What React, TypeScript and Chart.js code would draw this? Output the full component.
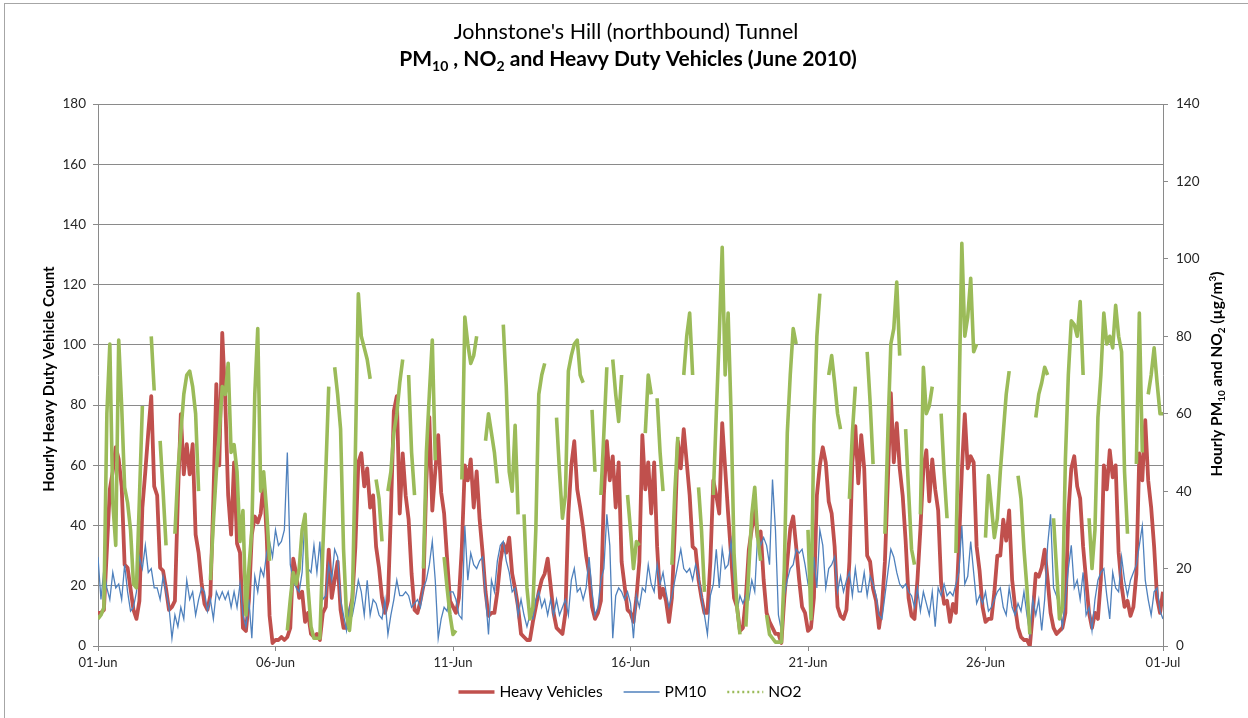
import React, { useEffect, useRef } from "react";
import { Chart, registerables } from "chart.js";

Chart.register(...registerables);

// ---- data (2-hourly samples, 01-Jun 00:00 .. 01-Jul 00:00) ----
const xTickLabels = ["01-Jun", "06-Jun", "11-Jun", "16-Jun", "21-Jun", "26-Jun", "01-Jul"];
const sampleHours = 2;
const N = null;

const hvCounts: number[] = [
  11, 11, 12, 32, 52, 58, 66, 62, 53, 27, 26, 19,
  12, 9, 15, 46, 58, 71, 83, 53, 50, 26, 25, 19,
  12, 13, 15, 49, 77, 57, 67, 57, 67, 37, 31, 21,
  14, 12, 17, 49, 87, 60, 104, 82, 50, 37, 61, 34,
  31, 6, 5, 15, 37, 43, 41, 44, 55, 37, 10, 1,
  2, 2, 3, 2, 3, 6, 29, 24, 16, 18, 8, 11,
  4, 3, 4, 2, 11, 13, 32, 16, 22, 28, 12, 6,
  6, 11, 16, 33, 61, 64, 53, 59, 46, 50, 33, 26,
  16, 11, 15, 44, 78, 83, 44, 64, 50, 42, 24, 12,
  11, 15, 20, 55, 76, 45, 58, 70, 51, 44, 29, 15,
  13, 11, 16, 33, 60, 55, 62, 46, 58, 42, 31, 18,
  10, 11, 11, 18, 28, 34, 31, 36, 24, 19, 13, 4,
  3, 2, 2, 8, 13, 18, 22, 24, 29, 20, 11, 6,
  5, 4, 11, 44, 60, 68, 52, 46, 39, 30, 24, 13,
  9, 11, 15, 50, 68, 55, 63, 46, 61, 28, 20, 12,
  11, 8, 16, 28, 70, 52, 61, 44, 61, 33, 16, 19,
  15, 8, 16, 39, 68, 59, 72, 61, 50, 33, 32, 22,
  16, 11, 11, 28, 55, 50, 44, 74, 59, 44, 30, 16,
  13, 5, 6, 16, 32, 39, 45, 36, 38, 22, 11, 8,
  6, 4, 4, 1, 16, 28, 39, 43, 33, 22, 13, 11,
  5, 6, 16, 50, 60, 66, 61, 48, 44, 33, 13, 10,
  9, 12, 28, 61, 73, 54, 70, 59, 30, 28, 19, 15,
  6, 13, 28, 55, 84, 61, 74, 59, 50, 35, 16, 10,
  9, 22, 39, 59, 65, 48, 62, 52, 45, 21, 14, 15,
  8, 14, 11, 33, 58, 77, 59, 63, 61, 33, 25, 13,
  8, 9, 9, 18, 30, 30, 42, 35, 45, 22, 13, 6,
  3, 2, 2, 0, 11, 24, 23, 26, 32, 22, 11, 6,
  4, 5, 6, 11, 44, 59, 63, 53, 49, 33, 22, 11,
  6, 11, 9, 22, 60, 52, 65, 56, 60, 31, 20, 13,
  15, 10, 13, 24, 64, 55, 75, 55, 46, 33, 16, 11,
  18,
];

const pm10Values: number[] = [
  23, 12, 20, 15, 12, 19, 15, 16, 12, 21, 14, 9,
  10, 14, 23, 20, 26, 19, 20, 15, 15, 12, 18, 14,
  10, 2, 8, 5, 10, 7, 17, 12, 14, 8, 12, 15,
  14, 9, 12, 7, 14, 12, 14, 12, 14, 10, 14, 10,
  16, 8, 5, 12, 2, 18, 14, 20, 18, 24, 27, 23,
  30, 26, 27, 30, 50, 21, 17, 15, 14, 19, 34, 20,
  19, 26, 19, 27, 12, 13, 21, 17, 25, 23, 12, 8,
  4, 10, 8, 12, 17, 14, 8, 17, 8, 12, 11, 8,
  7, 12, 3, 8, 12, 17, 13, 13, 14, 13, 10, 11,
  12, 10, 15, 17, 21, 27, 17, 2, 7, 10, 9, 14,
  14, 12, 8, 7, 31, 17, 24, 21, 20, 22, 23, 13,
  3, 17, 14, 22, 26, 27, 22, 19, 14, 15, 8, 12,
  8, 5, 8, 7, 12, 14, 10, 12, 8, 12, 8, 12,
  8, 10, 12, 8, 17, 20, 14, 15, 12, 15, 23, 14,
  8, 10, 17, 20, 34, 26, 2, 13, 15, 14, 12, 14,
  11, 2, 13, 10, 15, 14, 21, 16, 14, 21, 16, 19,
  14, 10, 13, 17, 21, 25, 20, 19, 20, 17, 21, 18,
  13, 8, 3, 13, 16, 25, 15, 25, 20, 21, 27, 17,
  9, 13, 11, 13, 12, 17, 14, 29, 26, 28, 26, 21,
  43, 30, 8, 4, 13, 17, 20, 21, 25, 24, 25, 21,
  16, 14, 23, 15, 30, 26, 15, 20, 21, 23, 14, 18,
  14, 17, 19, 13, 20, 14, 14, 19, 13, 18, 16, 13,
  8, 7, 13, 19, 25, 23, 19, 16, 15, 16, 14, 13,
  10, 15, 9, 14, 11, 8, 14, 5, 15, 13, 16, 13,
  14, 13, 16, 19, 31, 16, 18, 27, 19, 11, 13, 11,
  14, 9, 10, 12, 14, 15, 10, 8, 15, 10, 8, 11,
  9, 14, 8, 3, 12, 8, 12, 4, 12, 26, 34, 15,
  13, 10, 5, 12, 20, 26, 15, 17, 12, 19, 8, 10,
  4, 12, 17, 19, 20, 13, 7, 19, 15, 14, 23, 17,
  13, 17, 19, 21, 26, 31, 17, 12, 8, 14, 15, 9,
  7,
];

const no2Values: (number | null)[] = [
  7, 8, 10, 60, 78, 37, 26, 79, 62, 41, 37, 30,
  16, 15, 38, 62, N, N, 80, 66, N, 53, 40, 26,
  N, N, 29, 45, 55, 65, 70, 71, 67, 60, 40, N,
  N, N, 17, 32, 45, 55, 67, 65, 73, 50, 52, 45,
  27, 35, 8, 20, 30, 65, 82, 40, 45, 35, 22, N,
  N, N, N, N, 4, 12, 19, 16, 20, 30, 34, 15,
  5, 2, 2, 2, 25, 45, 67, N, 72, 65, 56, 25,
  8, 4, 12, 50, 91, 80, 77, 74, 69, N, 43, 38,
  27, N, 40, 45, 55, 60, 68, 74, N, 70, 50, 39,
  N, N, 20, 50, 65, 79, 48, N, N, 23, 15, 8,
  3, 4, N, 43, 85, 78, 73, 75, 80, N, N, 53,
  60, 55, 50, 42, N, 83, 67, 45, 40, 57, 34, N,
  34, 15, 7, 10, 30, 65, 70, 73, N, N, N, 59,
  45, 33, 39, 71, 75, 78, 79, 70, 68, N, N, 61,
  45, N, 39, 55, 72, N, 74, 65, 58, 70, N, 39,
  30, 20, 27, 26, N, 55, 70, 65, N, 64, 50, 40,
  N, N, 21, 40, 54, N, 70, 80, 86, 70, N, 41,
  30, 14, N, N, 39, 60, 80, 103, 70, 86, 60, 24,
  10, 3, N, 5, 20, 34, 41, 28, 22, N, 8, 3,
  2, 1, 1, 1, 20, 55, 70, 82, 78, N, N, N,
  30, 7, 57, 80, 91, N, N, 70, 75, 68, 60, 56,
  N, N, 38, 55, 67, N, N, N, 76, 63, 47, N,
  20, N, 29, 55, 78, 82, 94, 75, N, 56, 40, 25,
  21, N, 34, 72, 60, 62, 67, N, N, 60, 45, 33,
  N, N, 24, 61, 104, 80, 85, 95, 76, 78, N, N,
  28, 44, 36, 28, 33, 45, 55, 65, 71, N, N, 44,
  38, 25, 15, 3, N, 59, 65, 68, 72, 70, N, 33,
  20, 7, 10, 48, 70, 84, 83, 80, 89, 70, N, 33,
  20, 30, 59, 70, 86, 78, 80, 77, 88, 80, 76, 45,
  29, N, N, 47, 86, 50, N, 65, 70, 77, 68, 60,
  60,
];

const seriesNames = ["Heavy Vehicles", "PM10", "NO2"];

// ---- styling ----
const FONT = "Lato, 'Open Sans', 'DejaVu Sans', sans-serif";
const RED = "#C0504D";
const BLUE = "#4F81BD";
const GREEN = "#9BBB59";
const GRID = "#8a8a8a";
const TEXT = "#262626";

type Part = [string, "n" | "sub" | "sup"];

function drawRich(ctx: CanvasRenderingContext2D, parts: Part[], x: number, y: number, size: number, bold: boolean) {
  const w = bold ? "bold " : "";
  const small = Math.round(size * 0.68);
  const widths = parts.map(([t, k]) => {
    ctx.font = `${w}${k === "n" ? size : small}px ${FONT}`;
    return ctx.measureText(t).width;
  });
  const total = widths.reduce((a, b) => a + b, 0);
  let cx = x - total / 2;
  ctx.textAlign = "left";
  ctx.textBaseline = "alphabetic";
  parts.forEach(([t, k], i) => {
    ctx.font = `${w}${k === "n" ? size : small}px ${FONT}`;
    const dy = k === "sub" ? size * 0.22 : k === "sup" ? -size * 0.38 : 0;
    ctx.fillText(t, cx, y + dy);
    cx += widths[i];
  });
}

const textPlugin = {
  id: "texts",
  beforeDraw(chart: any) {
    const ctx: CanvasRenderingContext2D = chart.ctx;
    ctx.save();
    ctx.fillStyle = "#fff";
    ctx.fillRect(0, 0, chart.width, chart.height);
    ctx.strokeStyle = "#a6a6a6";
    ctx.lineWidth = 1;
    ctx.strokeRect(4.5, 3.5, 1300, 760);
    ctx.restore();
  },
  afterDraw(chart: any) {
    const ctx: CanvasRenderingContext2D = chart.ctx;
    const area = chart.chartArea;
    ctx.save();
    ctx.fillStyle = "#000";
    // titles
    drawRich(ctx, [["Johnstone's Hill (northbound) Tunnel", "n"]], 626, 39, 21.5, false);
    drawRich(
      ctx,
      [["PM", "n"], ["10", "sub"], [" , NO", "n"], ["2", "sub"], [" and Heavy Duty Vehicles (June 2010)", "n"]],
      628, 66, 21, true
    );
    // left axis title
    ctx.save();
    ctx.translate(54, (area.top + area.bottom) / 2 + 4);
    ctx.rotate(-Math.PI / 2);
    drawRich(ctx, [["Hourly Heavy Duty Vehicle Count", "n"]], 0, 0, 15, true);
    ctx.restore();
    // right axis title
    ctx.save();
    ctx.translate(1222, (area.top + area.bottom) / 2 - 1);
    ctx.rotate(-Math.PI / 2);
    drawRich(
      ctx,
      [["Hourly PM", "n"], ["10", "sub"], [" and NO", "n"], ["2", "sub"], [" (\u00b5g/m", "n"], ["3", "sup"], [")", "n"]],
      0, 0, 15.4, true
    );
    ctx.restore();
    // legend
    const items = [
      { label: seriesNames[0], color: RED, width: 3.5, dash: [] as number[] },
      { label: seriesNames[1], color: BLUE, width: 1.5, dash: [] as number[] },
      { label: seriesNames[2], color: GREEN, width: 2.5, dash: [2, 3] },
    ];
    ctx.font = `15.5px ${FONT}`;
    const sample = 36;
    const gapText = 5;
    const gapItem = 21;
    const widths = items.map((it) => sample + gapText + ctx.measureText(it.label).width);
    const total = widths.reduce((a, b) => a + b, 0) + gapItem * (items.length - 1);
    let lx = 630 - total / 2;
    const ly = 692;
    items.forEach((it, i) => {
      ctx.beginPath();
      ctx.strokeStyle = it.color;
      ctx.lineWidth = it.width;
      ctx.setLineDash(it.dash);
      ctx.moveTo(lx, ly);
      ctx.lineTo(lx + sample, ly);
      ctx.stroke();
      ctx.setLineDash([]);
      ctx.fillStyle = "#000";
      ctx.textAlign = "left";
      ctx.textBaseline = "middle";
      ctx.fillText(it.label, lx + sample + gapText, ly);
      lx += widths[i] + gapItem;
    });
    ctx.restore();
  },
};

export default function App() {
  const ref = useRef<HTMLCanvasElement | null>(null);

  useEffect(() => {
    if (!ref.current) return;
    const toPts = (arr: (number | null)[]) => arr.map((v, i) => ({ x: i * sampleHours, y: v }));
    const chart = new Chart(ref.current, {
      type: "line",
      data: {
        datasets: [
          {
            label: seriesNames[0],
            data: toPts(hvCounts),
            yAxisID: "y",
            borderColor: RED,
            borderWidth: 3.8,
            pointRadius: 0,
            tension: 0,
            borderJoinStyle: "round",
            order: 3,
          },
          {
            label: seriesNames[1],
            data: toPts(pm10Values),
            yAxisID: "y1",
            borderColor: BLUE,
            borderWidth: 1.3,
            pointRadius: 0,
            tension: 0,
            order: 2,
          },
          {
            label: seriesNames[2],
            data: toPts(no2Values),
            yAxisID: "y1",
            borderColor: GREEN,
            borderWidth: 3.6,
            pointRadius: 0,
            tension: 0,
            spanGaps: false,
            borderJoinStyle: "round",
            order: 1,
          },
        ] as any,
      },
      options: {
        responsive: false,
        animation: false,
        layout: { padding: { top: 104, left: 0, right: 0, bottom: 0 } },
        plugins: { legend: { display: false }, title: { display: false }, tooltip: { enabled: false } },
        scales: {
          x: {
            type: "linear",
            min: 0,
            max: (xTickLabels.length - 1) * 120,
            afterBuildTicks: (s: any) => {
              s.ticks = xTickLabels.map((_, i) => ({ value: i * 120 }));
            },
            afterFit: (s: any) => {
              s.height = 72;
            },
            ticks: {
              callback: (v: any) => xTickLabels[Math.round(Number(v) / 120)],
              font: { family: FONT, size: 13 },
              color: TEXT,
              padding: 4,
              maxRotation: 0,
              autoSkip: false,
            },
            grid: { drawOnChartArea: false, drawTicks: true, tickLength: 5, color: GRID },
            border: { color: GRID },
          },
          y: {
            position: "left",
            min: 0,
            max: 180,
            afterFit: (s: any) => {
              s.width = 98;
            },
            ticks: { stepSize: 20, font: { family: FONT, size: 13.5 }, color: TEXT, padding: 7 },
            grid: { color: GRID, tickLength: 5 },
            border: { color: GRID },
          },
          y1: {
            position: "right",
            min: 0,
            max: 140,
            afterFit: (s: any) => {
              s.width = 85;
            },
            ticks: { stepSize: 20, font: { family: FONT, size: 13.5 }, color: TEXT, padding: 8 },
            grid: { drawOnChartArea: false, tickLength: 5, color: GRID },
            border: { color: GRID },
          },
        },
      } as any,
      plugins: [textPlugin],
    });
    return () => chart.destroy();
  }, []);

  return (
    <div style={{ position: "fixed", left: 0, top: 0, width: 1248, height: 718, background: "#fff" }}>
      <canvas ref={ref} width={1248} height={718} />
    </div>
  );
}
